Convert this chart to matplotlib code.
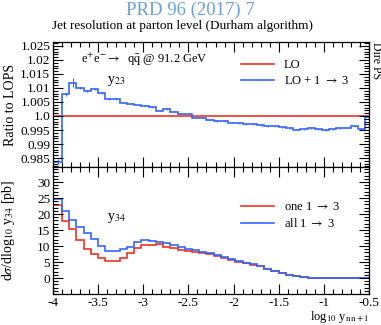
import numpy as np
import matplotlib
matplotlib.use("Agg")
import matplotlib.pyplot as plt
from matplotlib.ticker import MultipleLocator, FuncFormatter, FixedLocator

plt.rcParams['font.family'] = ['Liberation Serif', 'DejaVu Serif']
plt.rcParams['mathtext.fontset'] = 'stix'
plt.rcParams['axes.unicode_minus'] = False

# bin edges in log10 y
edges = [-4.0] + [round(-3.9 + 0.08 * k, 2) for k in range(44)]

# ratio to LOPS (upper panel)
ratio_lo = [1.0] * 44
ratio_lo13 = [0.9837, 1.0078, 1.0119, 1.0099, 1.0089, 1.0095, 1.0081, 1.0060,
              1.0060, 1.0048, 1.0043, 1.0040, 1.0036, 1.0031, 1.0019, 1.0025,
              1.0015, 1.0008, 1.0008, 0.9994, 0.9994, 0.9986, 0.9982, 0.9982,
              0.9976, 0.9974, 0.9970, 0.9971, 0.9968, 0.9964, 0.9964, 0.9960,
              0.9956, 0.9951, 0.9952, 0.9956, 0.9952, 0.9950, 0.9953, 0.9956,
              0.9958, 0.9964, 0.9952, 0.9997]
ratio_err = [0.0008, 0.0005, 0.0016, 0.0004, 0.0003, 0.0003, 0.0003, 0.0003,
             0.0003, 0.0003, 0.0002, 0.0002, 0.0002, 0.0002, 0.0002, 0.0002,
             0.0002, 0.0002, 0.0002, 0.0002, 0.0002, 0.0002, 0.0002, 0.0002,
             0.0002, 0.0002, 0.0002, 0.0002, 0.0002, 0.0002, 0.0002, 0.0002,
             0.0002, 0.0002, 0.0002, 0.0002, 0.0002, 0.0002, 0.0002, 0.0002,
             0.0002, 0.0002, 0.0003, 0.0008]

# dsigma/dlog10 y34 (lower panel)
xs_all = [24.7, 21.0, 18.1, 16.0, 14.0, 12.1, 10.1, 8.4, 8.4, 9.0, 9.8, 11.3,
          11.9, 11.6, 11.25, 10.8, 10.3, 9.8, 9.2, 8.75, 8.2, 7.7, 7.1, 6.5,
          5.8, 5.3, 4.7, 4.3, 3.75, 2.9, 2.2, 1.56, 1.0, 0.6, 0.25, 0.1,
          0.05, 0.03, 0.02, 0.01, 0.01, 0.0, 0.0, 0.0]
xs_one = [22.8, 17.8, 15.2, 11.9, 9.1, 7.4, 6.1, 5.4, 5.4, 6.1, 7.9, 9.5,
          10.3, 10.4, 10.5, 9.8, 9.5, 8.75, 8.5, 8.2, 7.9, 7.5, 6.9, 6.3,
          5.6, 5.1, 4.6, 4.2, 3.65, 2.85, 2.15, 1.5, 0.97, 0.58, 0.24, 0.1,
          0.05, 0.03, 0.02, 0.01, 0.01, 0.0, 0.0, 0.0]

red = '#ee3322'
blue = '#3366ff'

fig = plt.figure(figsize=(3.81, 3.25), dpi=100)
W, H = 381.0, 325.0
x0, x1 = 53 / W, 369 / W
ax1 = fig.add_axes([x0, 1 - 167 / H, x1 - x0, (167 - 42) / H])
ax2 = fig.add_axes([x0, 1 - 294 / H, x1 - x0, (294 - 167) / H], sharex=ax1)

centers = [(edges[i] + edges[i + 1]) / 2 for i in range(44)]

ax1.stairs(ratio_lo, edges, color=red, lw=1.2)
ax1.errorbar(centers, ratio_lo, yerr=0.0001, fmt='none', ecolor=red, lw=0.8)
ax1.stairs(ratio_lo13, edges, color=blue, lw=1.2)
ax1.errorbar(centers, ratio_lo13, yerr=ratio_err, fmt='none', ecolor=blue, lw=0.8)

ax2.stairs(xs_one, edges, color=red, lw=1.2)
ax2.stairs(xs_all, edges, color=blue, lw=1.2)

ax1.set_xlim(-4, -0.5)
ax1.set_ylim(0.9818, 1.0264)
ax2.set_ylim(-5, 34.7)

for ax in (ax1, ax2):
    ax.tick_params(which='both', direction='in', top=True, right=True,
                   labelsize=9.5, pad=2)
    ax.tick_params(which='major', length=7, width=0.8)
    ax.tick_params(which='minor', length=3.5, width=0.8)
    for s in ax.spines.values():
        s.set_linewidth(0.9)
    ax.xaxis.set_major_locator(MultipleLocator(0.5))
    ax.xaxis.set_minor_locator(MultipleLocator(0.1))

ax1.yaxis.set_major_locator(MultipleLocator(0.005))
ax1.yaxis.set_minor_locator(MultipleLocator(0.001))
def fmt_ratio(v, pos):
    s = ('%.3f' % v).rstrip('0')
    if s.endswith('.'):
        s += '0'
    return s
ax1.yaxis.set_major_formatter(FuncFormatter(fmt_ratio))
ax1.tick_params(axis='x', labelbottom=False)

ax2.yaxis.set_major_locator(FixedLocator([0, 5, 10, 15, 20, 25, 30]))
ax2.yaxis.set_minor_locator(MultipleLocator(1))
ax2.xaxis.set_major_formatter(FuncFormatter(lambda v, p: ('%g' % v)))

ax1.set_ylabel('Ratio to LOPS', fontsize=10)
ax2.set_ylabel(r'd$\sigma$/dlog$_{10}$ y$_{34}$ [pb]', fontsize=10)
ax1.yaxis.set_label_coords(-0.115, 0.5)
ax2.yaxis.set_label_coords(-0.115, 0.5)

ax1.text(0.09, 0.83, r'e$^{+}$e$^{-}$$\rightarrow$  q$\bar{\rm q}$ @ 91.2 GeV',
         transform=ax1.transAxes, fontsize=9)
ax1.text(0.17, 0.67, r'y$_{23}$', transform=ax1.transAxes, fontsize=10)
ax2.text(0.17, 0.58, r'y$_{34}$', transform=ax2.transAxes, fontsize=10)

leg1 = ax1.legend([plt.Line2D([], [], color=red, lw=1.2),
                   plt.Line2D([], [], color=blue, lw=1.2)],
                  ['LO', r'LO + 1 $\rightarrow$ 3'],
                  loc='upper left', bbox_to_anchor=(0.58, 0.9), frameon=False,
                  fontsize=9, handlelength=2.6, labelspacing=0.3, borderaxespad=0)
leg2 = ax2.legend([plt.Line2D([], [], color=red, lw=1.2),
                   plt.Line2D([], [], color=blue, lw=1.2)],
                  [r'one 1 $\rightarrow$ 3', r'all 1 $\rightarrow$ 3'],
                  loc='upper left', bbox_to_anchor=(0.58, 0.77), frameon=False,
                  fontsize=9, handlelength=2.6, labelspacing=0.3, borderaxespad=0)

fig.text(369 / W, 1 - 320 / H, r'log$_{10}$ y$_{\rm n\,n+1}$',
         ha='right', va='baseline', fontsize=9)

fig.text(0.5, 1 - 10 / H, 'PRD 96 (2017) 7', ha='center', va='center',
         fontsize=13.5, color='#6a9fd8')
fig.text(52 / W, 1 - 26 / H, 'Jet resolution at parton level (Durham algorithm)',
         ha='left', va='center', fontsize=9.5)
fig.text(370 / W, 1 - 42 / H, 'Dire PS', rotation=270, ha='left', va='top',
         fontsize=8.5)

fig.savefig('out.png', dpi=100)
